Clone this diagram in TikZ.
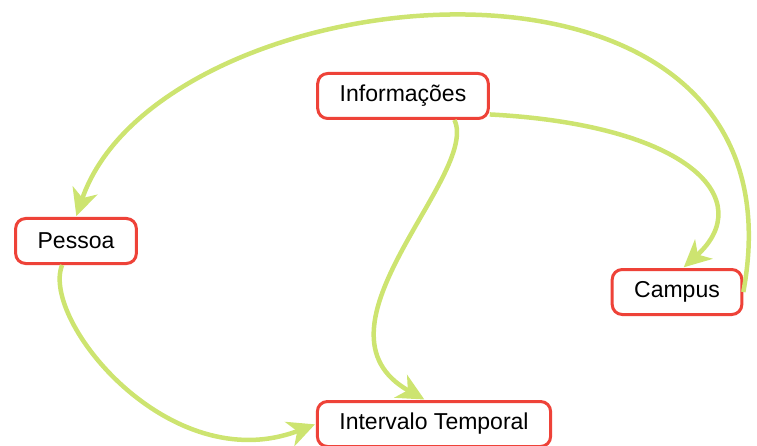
\documentclass[tikz,border=0pt]{standalone}
\usepackage{fontspec}
\setmainfont{Liberation Sans}
\usetikzlibrary{arrows.meta}
\definecolor{lima}{RGB}{205,228,112}
\definecolor{boxred}{RGB}{238,66,56}
\tikzstyle{tb} = [rectangle, draw=boxred, fill=white, line width=3pt,
    rounded corners=10pt, inner xsep=22pt, minimum height=45pt,
    font=\fontsize{23}{27}\selectfont]

\begin{document}
\begin{tikzpicture}[x=1pt,y=1pt,->,>={Stealth[length=27pt,width=26pt,inset=8pt]},
                    line width=4.5pt,draw=lima,shorten >=1pt]
  \useasboundingbox (0,0) rectangle (757,-446);
  \node[tb] (info)  at (403,-96)  {Informações};
  \node[tb] (pes)   at (76,-241)  {Pessoa};
  \node[tb] (camp)  at (677,-292) {Campus};
  \node[tb] (inter) at (434,-424) {Intervalo Temporal};

  \draw[lima] (camp.east) .. controls (815,95) and (160,30) .. (pes.north);
  \draw[lima] (info.-12) .. controls (690,-125) and (758,-200) .. (camp.76);
  \draw[lima] (info.-25) .. controls (480,-175) and (300,-330) .. (inter.110);
  \draw[lima] (pes.-120) .. controls (40,-320) and (170,-480) .. (inter.west);
\end{tikzpicture}
\end{document}
